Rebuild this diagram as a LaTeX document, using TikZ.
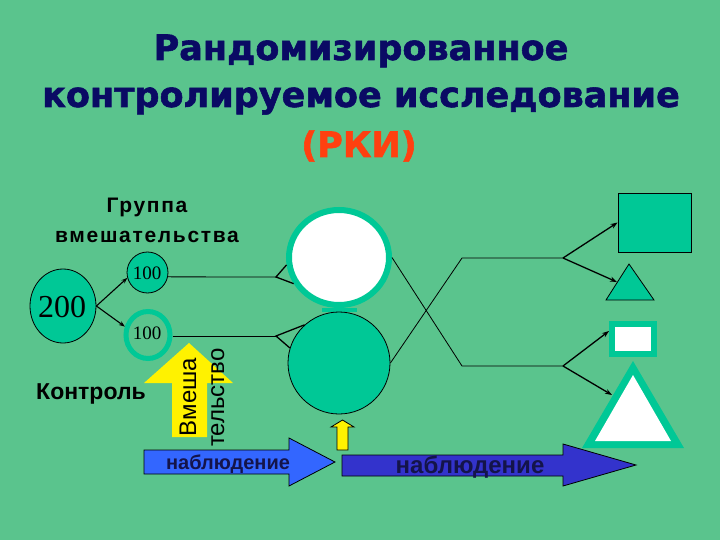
\documentclass[tikz,border=0pt]{standalone}
\usepackage{fontspec}
\setmainfont{Liberation Sans}
\newfontfamily\titlefont[FakeBold=1.6]{DejaVu Sans}
\newfontfamily\numfont{Liberation Serif}
\usetikzlibrary{arrows.meta,shapes.geometric}
\definecolor{bg}{HTML}{5AC48D}
\definecolor{tealf}{HTML}{00C896}
\definecolor{navy}{HTML}{0A0A64}
\definecolor{rki}{HTML}{FF4010}
\definecolor{blueA}{HTML}{3366FF}
\definecolor{blueB}{HTML}{3333CC}
\definecolor{txtnavy}{HTML}{14144A}
\begin{document}
\begin{tikzpicture}[x=1pt,y=-1pt,
  ttl/.style={font=\titlefont\bfseries\fontsize{35}{40}\selectfont, text=navy, anchor=base, inner sep=0pt},
  lbl/.style={font=\bfseries\fontsize{21}{24}\selectfont, anchor=base, inner sep=0pt},
  num/.style={font=\numfont\fontsize{19}{20}\selectfont, inner sep=0pt},
  thinln/.style={line width=0.8pt},
  arr/.style={line width=1.3pt, -{Stealth[length=7pt,width=5pt]}},
  arrs/.style={line width=1.1pt, -{Stealth[length=6pt,width=4.5pt]}},
  rot/.style={font=\fontsize{24}{26}\selectfont, rotate=90, anchor=base, inner sep=0pt},
  obs/.style={font=\bfseries, text=txtnavy, anchor=base, inner sep=0pt}
]
\useasboundingbox (0,0) rectangle (720,540);
\fill[bg] (0,0) rectangle (720,540);

% title
\node[ttl] (t1) at (361,60) {Рандомизированное};
\node[ttl] (t2) at (361,107) {контролируемое исследование};
\node[ttl, text=rki] (t3) at (359,157) {(РКИ)};

% labels
\node[lbl] (g1) at (147,213) {\addfontfeatures{LetterSpace=8}Группа};
\node[lbl] (g2) at (147,242) {\addfontfeatures{LetterSpace=8}вмешательства};
\node[lbl, font=\bfseries\fontsize{23}{26}\selectfont] (ctl) at (91,399) {Контроль};

% circles on the left
\node[ellipse, draw, thinln, fill=tealf, minimum width=66pt, minimum height=74pt, inner sep=0pt] (c200) at (63,306) {};
\node[num, font=\numfont\fontsize{32}{34}\selectfont] (n200) at (62,307) {200};
\node[circle, draw, thinln, fill=tealf, minimum size=41pt, inner sep=0pt] (c100a) at (147.5,272.5) {};
\node[num] (n100a) at (147,273.5) {100};
\node[ellipse, draw=tealf, line width=5pt, minimum width=44pt, minimum height=47pt, inner sep=0pt] (c100b) at (148,335) {};
\node[num] (n100b) at (147,333) {100};

\draw[arrs] (c200.east) -- (c100a.195);
\draw[arrs] (c200.east) -- (c100b.160);

% big circles
\fill[tealf] (322,308) rectangle (357,312);
\node[ellipse, draw=tealf, fill=white, line width=6pt, minimum width=100pt, minimum height=95pt, inner sep=0pt] (bigA) at (339,257.5) {};
\node[circle, draw, thinln, fill=tealf, minimum size=102pt, inner sep=0pt] (bigB) at (339,363) {};

% forks into big circles
\coordinate (fA) at (276,277);
\coordinate (fB) at (276,336);
\draw[thinln] (c100a.-12) -- (fA);
\draw[line width=1.3pt] (bigA.188) -- (fA) -- (bigA.210);
\draw[thinln] (c100b.east |- fB) -- (fB);
\draw[line width=1.3pt] (bigB.132) -- (fB) -- (bigB.163);

% crossing lines
\coordinate (jA) at (462,366);
\coordinate (kA) at (563,366);
\coordinate (jB) at (462,258);
\coordinate (kB) at (563,258);
\draw[thinln] (bigA.east) -- (jA) -- (kA);
\draw[thinln] (bigB.east) -- (jB) -- (kB);

% outcome shapes
\node[rectangle, draw, thinln, fill=tealf, minimum width=73pt, minimum height=59pt, inner sep=0pt] (sq) at (654.5,222.5) {};
\draw[thinln, fill=tealf] (629,264) -- (654,300) -- (606,300) -- cycle;
\coordinate (triS) at (617,282);
\node[rectangle, draw=tealf, fill=white, line width=6pt, minimum width=42pt, minimum height=30pt, inner sep=0pt] (rectS) at (633,339) {};
\coordinate (rS) at (609,331);
\fill[tealf] (633,361) -- (684,448) -- (582,448) -- cycle;
\fill[white] (633,375) -- (671,441) -- (595,441) -- cycle;
\coordinate (triL) at (612,395);

\draw[arr] (kB) -- (sq.west);
\draw[arr] (kB) -- (triS);
\draw[arr] (kA) -- (rS);
\draw[arr] (kA) -- (triL);

% yellow arrows
\fill[yellow] (189,343) -- (233,383) -- (207,383) -- (207,437) -- (172,437) -- (172,383) -- (144,383) -- cycle;
\node[rot] (vm1) at (196,397) {Вмеша};
\node[rot] (vm2) at (224,397.5) {тельство};
\draw[thinln, fill=yellow] (342.5,420) -- (354,427) -- (348,427) -- (348,450) -- (337,450) -- (337,427) -- (331,427) -- cycle;

% blue arrows
\draw[thinln, fill=blueA] (144,450) -- (289,450) -- (289,438) -- (335,462) -- (289,486) -- (289,474) -- (144,474) -- cycle;
\node[obs, font=\bfseries\fontsize{20}{22}\selectfont] (o1) at (228,469) {наблюдение};
\draw[thinln, fill=blueB] (342,455) -- (563,455) -- (563,444) -- (636,465) -- (563,486) -- (563,476) -- (342,476) -- cycle;
\node[obs, font=\bfseries\fontsize{24}{26}\selectfont] (o2) at (470,473) {наблюдение};
\end{tikzpicture}
\end{document}
